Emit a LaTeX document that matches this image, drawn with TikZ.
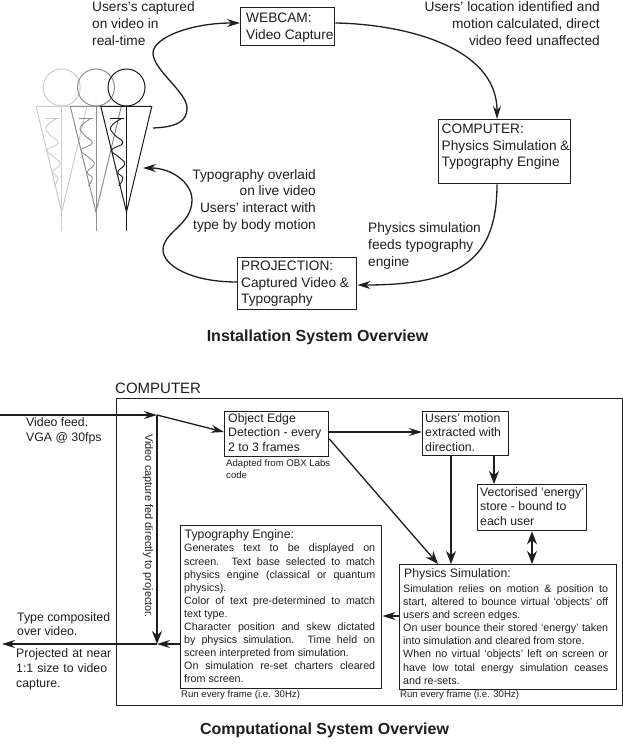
\documentclass[tikz,border=0pt]{standalone}
\usepackage{fontspec}
\setmainfont{Liberation Sans}
\usetikzlibrary{arrows.meta}
\definecolor{ink}{HTML}{1E1E1E}
\definecolor{figa}{HTML}{CCCCCC}
\definecolor{figb}{HTML}{8E8E8E}
\definecolor{figc}{HTML}{1A1A1A}
\newcommand{\fs}[2]{\fontsize{#1}{#2}\selectfont}
\newcommand{\jl}[2]{\makebox[#1pt][s]{#2}\\}
\tikzset{
  x=1pt,y=-1pt,
  every node/.style={text=ink},
  box/.style={draw=ink,line width=1.4pt,inner sep=0pt,anchor=north west},
  lab/.style={inner sep=0pt,anchor=north west,align=left},
  big/.style={lab,font=\fs{13.7}{16.8}},
  body/.style={lab,font=\fs{12.3}{14.8}},
  tiny/.style={lab,font=\fs{9.6}{12}},
  small/.style={lab,font=\fs{10.7}{13.1}},
  ttl/.style={inner sep=0pt,font=\fs{16}{20}\bfseries},
  arr/.style={draw=ink,line width=1.3pt,-{Stealth[length=13pt,width=8pt]}},
  larr/.style={draw=ink,line width=1.3pt,-{Stealth[length=13pt,width=10pt]}},
  dbl/.style={draw=ink,line width=1.3pt,{Stealth[length=13pt,width=10pt]}-{Stealth[length=13pt,width=10pt]}},
}
\begin{document}
\begin{tikzpicture}
\useasboundingbox (0,0) rectangle (623,744);
% figures
\foreach \dx/\c in {0/figa,34.3/figb,64.8/figc}{
  \begin{scope}[xshift=\dx pt]
    \draw[\c,line width=1pt] (61.7,87.5) circle[radius=18.5];
    \draw[\c,line width=1pt] (36,106.3) -- (87,106.3) -- (61.7,212) -- cycle;
    \draw[\c,line width=1pt] (61.7,106.3) -- (61.7,231);
    \draw[\c,line width=.6pt] (45,118.5) -- (59,118.5);
    \draw[\c,line width=.9pt,line join=round] plot[smooth,tension=.8] coordinates {(56,119) (46,127) (50,135) (58,143) (47,150) (54,157) (60,164) (53,172) (58,178) (54,186)};
  \end{scope}
}
% top boxes
\node[box,minimum width=94pt,minimum height=38pt] (web) at (240,7) {};
\node[big] (webt) at (246,13) {WEBCAM:\\Video Capture};
\node[box,minimum width=132pt,minimum height=64pt] (comp) at (438,119) {};
\node[big] (compt) at (441.5,123.5) {COMPUTER:\\Physics Simulation \&\\Typography Engine};
\node[box,minimum width=119pt,minimum height=52pt] (proj) at (237,257) {};
\node[big] (projt) at (241,260.5) {PROJECTION:\\Captured Video \&\\Typography};
% top labels
\node[big] (l1) at (92,1.5) {Users's captured\\on video in\\real-time};
\node[big,align=right,anchor=north east] (l2) at (600,1.5) {Users' location identified and\\motion calculated, direct\\video feed unaffected};
\node[big,align=right,anchor=north east] (l3) at (316,169) {Typography overlaid\\on live video\\Users' interact with\\type by body motion};
\node[big] (l4) at (368,222.5) {Physics simulation\\feeds typography\\engine};
\coordinate (figout) at (153,128);
\coordinate (figin) at (143,168);
\draw[arr] (figout) .. controls (176,127) and (187,122) .. (187,108)
  .. controls (187,92) and (153,70) .. (153,53)
  .. controls (153,38) and (190,23) .. (web.west |- 0,23);
\draw[arr] (web.east |- 0,23) .. controls (400,24) and (497,45) .. (comp.north -| 497,0);
\draw[arr] (comp.south -| 497,0) .. controls (497,260) and (460,285) .. (proj.east |- 0,285);
\draw[arr] (proj.west |- 0,282) .. controls (190,282) and (163,265) .. (163,250)
  .. controls (163,232) and (192,225) .. (192,200)
  .. controls (192,183) and (172,168) .. (figin);
\node[ttl] (t1) at (317.5,337) {Installation System Overview};
% lower diagram
\node[box,minimum width=506pt,minimum height=307pt] (outer) at (116,398) {};
\node[lab,font=\fs{15}{17}] (outerl) at (115,382.5) {COMPUTER};
\node[box,minimum width=104pt,minimum height=45pt] (edge) at (224,411) {};
\node[body] (edget) at (228,413) {Object Edge\\Detection - every\\2 to 3 frames};
\node[tiny] (edgen) at (226,459) {Adapted from OBX Labs\\code};
\node[box,minimum width=86pt,minimum height=44pt] (motion) at (422,411) {};
\node[body] (motiont) at (425,413) {Users' motion\\extracted with\\direction.};
\node[box,minimum width=109pt,minimum height=46pt] (store) at (477,484) {};
\node[body] (storet) at (480,487) {Vectorised `energy'\\store - bound to\\each user};
\node[box,minimum width=217pt,minimum height=125pt] (phys) at (399,564) {};
\node[body] (physh) at (404,568) {Physics Simulation:};
\node[small] (physt) at (403,584.5) {\jl{205}{Simulation relies on motion \& position to}\jl{205}{start, altered to bounce virtual `objects' off}users and screen edges.\\\jl{205}{On user bounce their stored `energy' taken}into simulation and cleared from store.\\\jl{205}{When no virtual `objects' left on screen or}\jl{205}{have low total energy simulation ceases}and re-sets.};
\node[tiny] (physn) at (400,690) {Run every frame (i.e. 30Hz)};
\node[box,minimum width=201pt,minimum height=163pt] (typo) at (180,525) {};
\node[body] (typoh) at (184.5,529) {Typography Engine:};
\node[small] (typot) at (184,544) {\jl{191}{Generates text to be displayed on}\jl{191}{screen. Text base selected to match}\jl{191}{physics engine (classical or quantum}physics).\\\jl{191}{Color of text pre-determined to match}text type.\\\jl{191}{Character position and skew dictated}\jl{191}{by physics simulation. Time held on}screen interpreted from simulation.\\\jl{191}{On simulation re-set charters cleared}from screen.};
\node[tiny] (typon) at (181,690) {Run every frame (i.e. 30Hz)};
\node[body] (vf) at (26,417.5) {Video feed.\\VGA @ 30fps};
\node[body] (tc) at (17,612) {Type composited\\over video.};
\node[body,text width=97pt] (pj) at (16,648.5) {\jl{97}{Projected at near}\jl{97}{1:1 size to video}capture.};
\node[font=\fs{10.95}{12},inner sep=0pt,rotate=-90,anchor=center] (vc) at (148,526) {Video capture fed directly to projector.};
\node[ttl] (t2) at (324.5,730) {Computational System Overview};
% connectors
\coordinate (in) at (0,415);
\coordinate (hub) at (157,415);
\coordinate (mix) at (157,644);
\coordinate (out) at (2,644);
\draw[arr] (in) -- (hub);
\draw[arr] (hub) -- (edge.west |- 0,432);
\draw[larr] (hub) -- (mix);
\draw[arr] (typo.west |- mix) -- (mix);
\draw[arr] (mix) -- (out);
\draw[arr] (edge.east |- 0,432) -- (motion.west |- 0,432);
\draw[larr] (edge.east |- 0,439) -- (438,564);
\draw[larr] (motion.south -| 451,0) -- (phys.north -| 451,0);
\draw[larr] (motion.south -| 494,0) -- (store.north -| 494,0);
\draw[dbl] (store.south -| 532,0) -- (phys.north -| 532,0);
\draw[arr] (phys.west |- 0,616) -- (typo.east |- 0,616);
\end{tikzpicture}
\end{document}
